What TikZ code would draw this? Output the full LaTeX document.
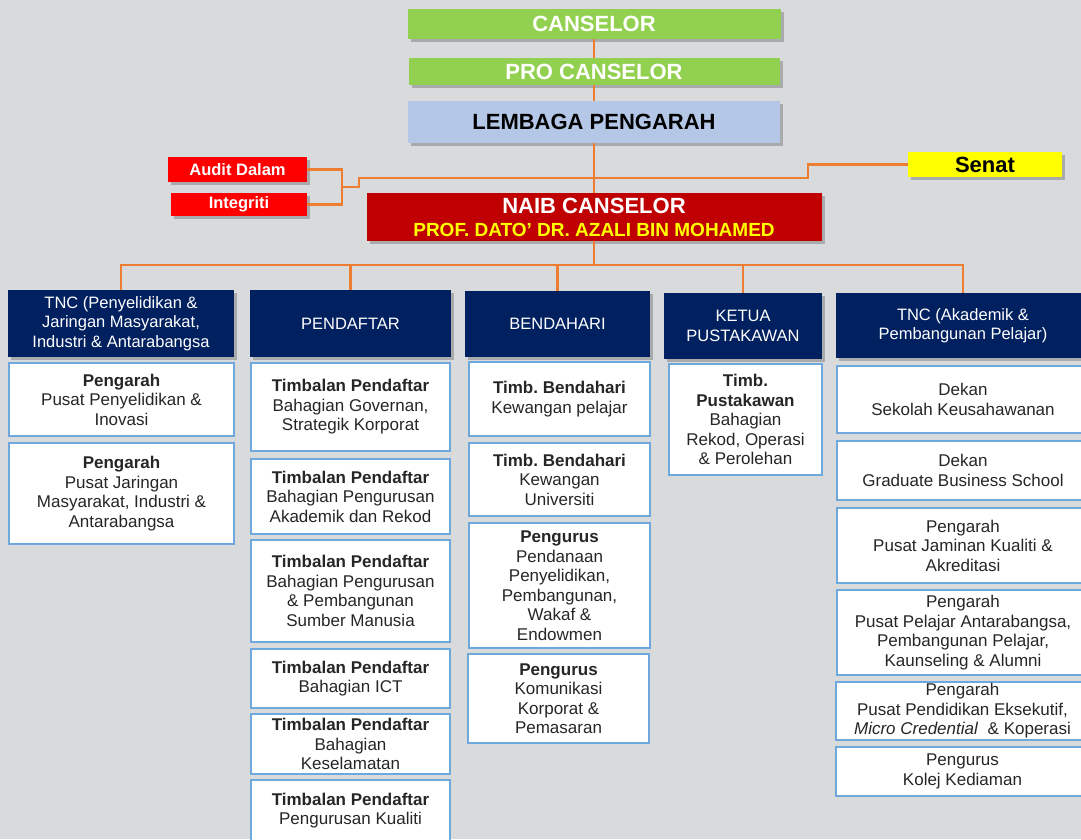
\documentclass[tikz,border=0pt]{standalone}
\usepackage{fontspec}
\setmainfont{Liberation Sans}
\usetikzlibrary{shadows}
\frenchspacing
\definecolor{bg}{HTML}{D9DADC}
\definecolor{cgreen}{HTML}{92D050}
\definecolor{clblue}{HTML}{B4C7E7}
\definecolor{cred}{HTML}{FF0000}
\definecolor{cdred}{HTML}{C00000}
\definecolor{cyel}{HTML}{FFFF00}
\definecolor{cnavy}{HTML}{002060}
\definecolor{corange}{HTML}{ED7D31}
\definecolor{cborder}{HTML}{6FA8DC}
\definecolor{ctext}{HTML}{262626}
\begin{document}
\begin{tikzpicture}[x=1pt,y=-1pt,
  shd/.style={drop shadow={shadow xshift=3pt,shadow yshift=-3pt,fill=black,opacity=.22}},
  topbox/.style={shd,inner sep=0,align=center,font=\fontsize{22}{24}\selectfont\bfseries},
  sidebox/.style={shd,inner sep=0,align=center,font=\fontsize{16.5}{19}\selectfont\bfseries},
  headbox/.style={shd,fill=cnavy,text=white,inner sep=0,align=center,font=\fontsize{16.5}{19.5}\selectfont},
  childbox/.style={draw=cborder,line width=2.5pt,fill=white,inner sep=0,align=center,text=ctext,font=\fontsize{17}{19.5}\selectfont},
  conn/.style={draw=corange,line width=2.5pt}]
\useasboundingbox (0,0) rectangle (1081,839);
\clip (0,0) rectangle (1081,839);
\fill[bg] (0,0) rectangle (1081,839);

% top level
\node[topbox,fill=cgreen,text=white,minimum width=373,minimum height=30] (can) at (594,24) {CANSELOR};
\node[topbox,fill=cgreen,text=white,minimum width=371,minimum height=27] (pro) at (594,71.5) {PRO CANSELOR};
\node[topbox,fill=clblue,text=black,minimum width=372,minimum height=42] (lem) at (594,122) {LEMBAGA PENGARAH};
\node[topbox,fill=cdred,text=white,minimum width=455,minimum height=48] (naib) at (594,217)
  {NAIB CANSELOR\\[-1pt]{\color{cyel}\fontsize{19}{21}\selectfont PROF. DATO’ DR. AZALI BIN MOHAMED}};
\node[sidebox,fill=cred,text=white,minimum width=139,minimum height=25] (audit) at (237.5,169.5) {Audit Dalam};
\node[sidebox,fill=cred,text=white,minimum width=136,minimum height=23] (integ) at (239,204.5) {Integriti};
\node[topbox,fill=cyel,text=black,minimum width=154,minimum height=25] (senat) at (985,164.5) {Senat};

% headers
\node[headbox,minimum width=226,minimum height=67] (h1) at (121,323.5) {TNC (Penyelidikan \&\\Jaringan Masyarakat,\\Industri \& Antarabangsa};
\node[headbox,minimum width=201,minimum height=67] (h2) at (350.5,323.5) {PENDAFTAR};
\node[headbox,minimum width=185,minimum height=66] (h3) at (557.5,324) {BENDAHARI};
\node[headbox,minimum width=158,minimum height=66] (h4) at (743,326) {KETUA\\PUSTAKAWAN};
\node[headbox,minimum width=254,minimum height=65] (h5) at (963,325.5) {TNC (Akademik \&\\Pembangunan Pelajar)};

% column 1
\node[childbox,minimum width=225,minimum height=73] (a1) at (121.5,399.5) {\textbf{Pengarah}\\Pusat Penyelidikan \&\\Inovasi};
\node[childbox,minimum width=225,minimum height=101] (a2) at (121.5,493.5) {\textbf{Pengarah}\\Pusat Jaringan\\Masyarakat, Industri \&\\Antarabangsa};

% column 2
\node[childbox,minimum width=199,minimum height=88] (b1) at (350.5,407) {\textbf{Timbalan Pendaftar}\\Bahagian Governan,\\Strategik Korporat};
\node[childbox,minimum width=199,minimum height=75] (b2) at (350.5,496.5) {\textbf{Timbalan Pendaftar}\\Bahagian Pengurusan\\Akademik dan Rekod};
\node[childbox,minimum width=199,minimum height=102] (b3) at (350.5,591) {\textbf{Timbalan Pendaftar}\\Bahagian Pengurusan\\\& Pembangunan\\Sumber Manusia};
\node[childbox,minimum width=199,minimum height=59] (b4) at (350.5,678.5) {\textbf{Timbalan Pendaftar}\\Bahagian ICT};
\node[childbox,minimum width=199,minimum height=60] (b5) at (350.5,744) {\textbf{Timbalan Pendaftar}\\Bahagian\\Keselamatan};
\node[childbox,minimum width=199,minimum height=61] (b6) at (350.5,810.5) {\textbf{Timbalan Pendaftar}\\Pengurusan Kualiti};

% column 3
\node[childbox,minimum width=181,minimum height=74] (c1) at (559.5,399) {\textbf{Timb. Bendahari}\\Kewangan pelajar};
\node[childbox,minimum width=181,minimum height=73] (c2) at (559.5,479.5) {\textbf{Timb. Bendahari}\\Kewangan\\Universiti};
\node[childbox,minimum width=181,minimum height=125] (c3) at (559.5,585.5) {\textbf{Pengurus}\\Pendanaan\\Penyelidikan,\\Pembangunan,\\Wakaf \&\\Endowmen};
\node[childbox,minimum width=181,minimum height=89] (c4) at (558.5,698.5) {\textbf{Pengurus}\\Komunikasi\\Korporat \&\\Pemasaran};

% column 4
\node[childbox,minimum width=153,minimum height=111] (d1) at (745.5,419.5) {\textbf{Timb.}\\\textbf{Pustakawan}\\Bahagian\\Rekod, Operasi\\\& Perolehan};

% column 5
\node[childbox,minimum width=252,minimum height=67] (e1) at (963,399.5) {Dekan\\Sekolah Keusahawanan};
\node[childbox,minimum width=252,minimum height=59] (e2) at (963,470.5) {Dekan\\Graduate Business School};
\node[childbox,minimum width=252,minimum height=75] (e3) at (963,545.5) {Pengarah\\Pusat Jaminan Kualiti \&\\Akreditasi};
\node[childbox,minimum width=252,minimum height=85] (e4) at (963,632.5) {Pengarah\\Pusat Pelajar Antarabangsa,\\Pembangunan Pelajar,\\Kaunseling \& Alumni};
\node[childbox,minimum width=253,minimum height=58] (e5) at (962.5,711) {Pengarah\\Pusat Pendidikan Eksekutif,\\\textit{Micro Credential}\ \ \& Koperasi};
\node[childbox,minimum width=253,minimum height=49] (e6) at (962.5,771.5) {Pengurus\\Kolej Kediaman};

% connectors
\coordinate (brk) at (342,187);
\coordinate (jog) at (359,178);
\coordinate (sj) at (808,178);
\coordinate (bus) at (594,265);
\draw[conn] (can.south) -- (pro.north);
\draw[conn] (pro.south) -- (lem.north);
\draw[conn] (lem.south) -- (naib.north);
\draw[conn] (audit.east) -| (brk) |- (integ.east);
\draw[conn] (brk) -| (jog) -- (sj) |- (senat.west);
\draw[conn] (naib.south) -- (bus);
\draw[conn] (h1.north) |- (bus);
\draw[conn] (h2.north) |- (bus);
\draw[conn] (h3.north) |- (bus);
\draw[conn] (h4.north) |- (bus);
\draw[conn] (h5.north) |- (bus);
\end{tikzpicture}
\end{document}
